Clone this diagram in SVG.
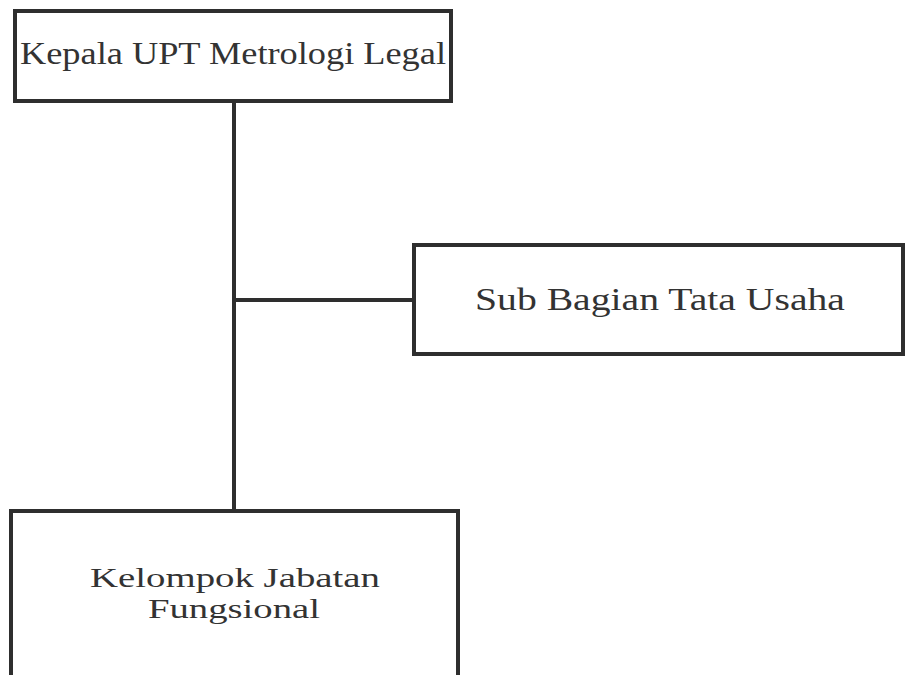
<svg xmlns="http://www.w3.org/2000/svg" width="908" height="675" viewBox="0 0 908 675">
<style>
.box{fill:#ffffff;stroke:#2e2e2e;stroke-width:4}
.lbl{font-family:"Liberation Serif","DejaVu Serif",serif;font-size:31px;fill:#333333}
.sm{font-size:27px}
.conn{stroke:#2e2e2e;stroke-width:4;fill:none}
</style>
<rect width="908" height="675" fill="#ffffff"/>
<g id="connectors">
<line class="conn" x1="234" y1="100" x2="234" y2="511"/>
<line class="conn" x1="234" y1="300" x2="414" y2="300"/>
</g>
<g id="kepala">
<rect class="box" x="15" y="11" width="436" height="90"/>
<text class="lbl" x="20" y="64" textLength="426" lengthAdjust="spacingAndGlyphs">Kepala UPT Metrologi Legal</text>
</g>
<g id="subbagian">
<rect class="box" x="414" y="245" width="489" height="109"/>
<text class="lbl" x="475" y="310" textLength="370" lengthAdjust="spacingAndGlyphs">Sub Bagian Tata Usaha</text>
</g>
<g id="kelompok">
<rect class="box" x="11" y="511" width="447" height="180"/>
<text class="lbl sm" x="90" y="587" textLength="290" lengthAdjust="spacingAndGlyphs">Kelompok Jabatan</text>
<text class="lbl sm" x="148" y="618" textLength="172" lengthAdjust="spacingAndGlyphs">Fungsional</text>
</g>
</svg>
